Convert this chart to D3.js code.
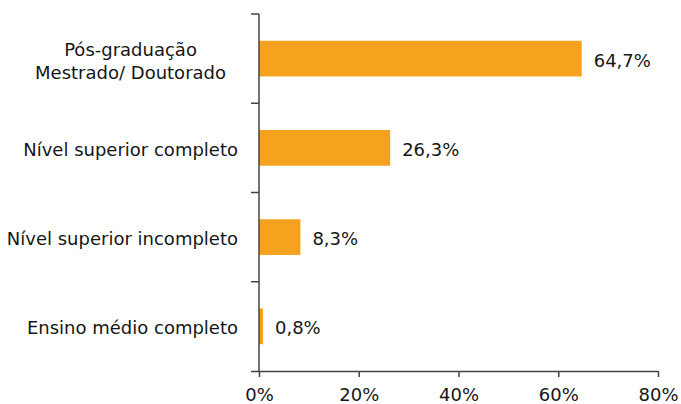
<!DOCTYPE html>
<html><head><meta charset="utf-8">
<script src="https://cdn.jsdelivr.net/npm/d3@7"></script>
<style>body{margin:0;background:#fff}svg{display:block}text{font-family:"DejaVu Sans",sans-serif;fill:#161616}</style>
</head><body>
<svg id="c" width="681" height="404"></svg>
<script>
const categories = [["Pós-graduação","Mestrado/ Doutorado"],["Nível superior completo"],["Nível superior incompleto"],["Ensino médio completo"]];
const values = [64.7, 26.3, 8.3, 0.8];
const valueLabels = ["64,7%","26,3%","8,3%","0,8%"];
const xTicks = [0,20,40,60,80];

const svg = d3.select("#c");
const m = {left:259, right:23, top:14, bottom:33};
const W = 681, H = 404;
const x = d3.scaleLinear().domain([0,80]).range([m.left, W-m.right]);
const y = d3.scaleBand().domain(d3.range(categories.length)).range([m.top, H-m.bottom]).paddingInner(0.6).paddingOuter(0.3);
const yTicks = d3.scaleBand().domain(d3.range(categories.length)).range([m.top, H-m.bottom]);
const axisColor = "#444";
const fs = "18px";

// bars
svg.selectAll("rect.bar").data(values).join("rect").attr("class","bar")
  .attr("x", x(0)).attr("y",(d,i)=>y(i)).attr("width",d=>x(d)-x(0)).attr("height",y.bandwidth())
  .attr("fill","#F5A31F");

// value labels
svg.selectAll("text.val").data(values).join("text").attr("class","val")
  .attr("x",d=>x(d)+12).attr("y",(d,i)=>y(i)+y.bandwidth()/2).attr("dy","0.45em")
  .style("font-size",fs).text((d,i)=>valueLabels[i]);

// y axis line and tick marks at band boundaries
svg.append("line").attr("x1",x(0)).attr("x2",x(0)).attr("y1",m.top).attr("y2",H-m.bottom).attr("stroke",axisColor).attr("stroke-width",1.5);
const bounds = d3.range(categories.length).map(i=>yTicks(i));
svg.selectAll("line.yt").data(bounds).join("line").attr("class","yt")
  .attr("x1",x(0)-8).attr("x2",x(0)).attr("y1",d=>d).attr("y2",d=>d).attr("stroke",axisColor).attr("stroke-width",1.5);

// x axis
const xAxis = svg.append("g").attr("transform",`translate(0,${H-m.bottom})`)
  .call(d3.axisBottom(x).tickValues(xTicks).tickFormat(d=>d+"%").tickSizeInner(6).tickSizeOuter(0));
xAxis.select(".domain").attr("d",`M${x(0)-8},0.5H${x(80)}`).attr("stroke",axisColor).attr("stroke-width",1.5);
xAxis.selectAll(".tick line").attr("stroke",axisColor).attr("stroke-width",1.5);
xAxis.selectAll(".tick text").style("font-size",fs).style("font-family","'DejaVu Sans',sans-serif").attr("fill","#161616").attr("y",17);

// category labels
categories.forEach((lines,i)=>{
  const cy = y(i)+y.bandwidth()/2;
  const lh = 23;
  const t = svg.append("text").style("font-size",fs);
  if(lines.length===1){
    t.attr("text-anchor","end").attr("x",x(0)-21).attr("y",cy).attr("dy","0.45em").text(lines[0]);
  } else {
    lines.forEach((l,j)=>{
      t.append("tspan").attr("x",0).attr("y",cy+(j-(lines.length-1)/2)*lh).attr("dy","0.5em").attr("text-anchor","middle").text(l);
    });
    const w = t.node().getBBox().width;
    t.selectAll("tspan").attr("x", x(0)-33-w/2);
  }
});
</script>
</body></html>
